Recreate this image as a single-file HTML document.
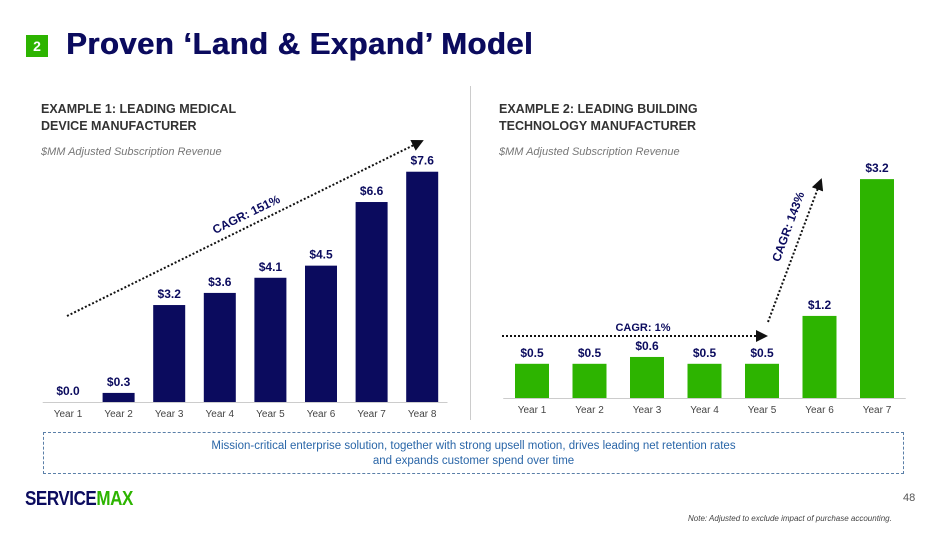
<!DOCTYPE html>
<html><head><meta charset="utf-8"><style>
body{margin:0;width:950px;height:534px;background:#fff;overflow:hidden;position:relative;font-family:"Liberation Sans",sans-serif}
.abs{position:absolute}
</style></head><body>
<div class="abs" style="left:26px;top:35px;width:22px;height:22px;background:#2db400;color:#fff;font-weight:bold;font-size:14px;text-align:center;line-height:22px">2</div>
<div class="abs" style="left:66px;top:26px;font-size:31px;font-weight:bold;color:#0b0b5e;letter-spacing:0.5px;text-shadow:0.6px 0 0 #0b0b5e">Proven ‘Land &amp; Expand’ Model</div>
<div class="abs" style="left:41px;top:101px;font-size:12.5px;font-weight:bold;color:#333;line-height:17px">EXAMPLE 1: LEADING MEDICAL<br>DEVICE MANUFACTURER</div>
<div class="abs" style="left:41px;top:146px;font-size:11px;font-style:italic;color:#777">$MM Adjusted Subscription Revenue</div>
<div class="abs" style="left:499px;top:101px;font-size:12.5px;font-weight:bold;color:#333;line-height:17px">EXAMPLE 2: LEADING BUILDING<br>TECHNOLOGY MANUFACTURER</div>
<div class="abs" style="left:499px;top:146px;font-size:11px;font-style:italic;color:#777">$MM Adjusted Subscription Revenue</div>
<div class="abs" style="left:470px;top:86px;width:1px;height:334px;background:#ccc"></div>
<svg class="abs" style="left:0;top:0" width="950" height="534" id="chart">
<defs><marker id="ah" markerWidth="6" markerHeight="6" refX="5" refY="3" orient="auto"><path d="M0,0L6,3L0,6z" fill="#111"/></marker></defs>
<g id="g1"></g><g id="g2"></g>
<line x1="67" y1="316" x2="422" y2="141" stroke="#111" stroke-width="2" stroke-dasharray="2,2" marker-end="url(#ah)"/>
<text x="248" y="218" transform="rotate(-26 248 218)" text-anchor="middle" font-size="12" font-weight="bold" fill="#0b0b5e">CAGR: 151%</text>
<line x1="502" y1="336" x2="766" y2="336" stroke="#111" stroke-width="2" stroke-dasharray="2,2" marker-end="url(#ah)"/>
<text x="643" y="331" text-anchor="middle" font-size="11" font-weight="bold" fill="#0b0b5e">CAGR: 1%</text>
<line x1="768" y1="322" x2="821" y2="180" stroke="#111" stroke-width="2" stroke-dasharray="2,2" marker-end="url(#ah)"/>
<text x="792" y="228" transform="rotate(-70 792 228)" text-anchor="middle" font-size="12" font-weight="bold" fill="#0b0b5e">CAGR: 143%</text>
</svg>
<div class="abs" style="left:43px;top:432px;width:861px;height:42px;border:1px dashed #5a7fa8;color:#2a66a8;font-size:11.5px;text-align:center;line-height:15px;padding-top:6px;box-sizing:border-box">Mission-critical enterprise solution, together with strong upsell motion, drives leading net retention rates<br>and expands customer spend over time</div>
<div class="abs" style="left:25px;top:488px;font-size:20px;font-weight:bold;color:#0b0b5e;transform:scaleX(0.85);transform-origin:left;letter-spacing:-0.5px">SERVICE<span style="color:#2db400">MAX</span></div>
<div class="abs" style="left:903px;top:492px;font-size:11px;color:#555">48</div>
<div class="abs" style="left:688px;top:514px;font-size:8px;font-style:italic;color:#444">Note: Adjusted to exclude impact of purchase accounting.</div>
<script>
const cats1=["Year 1","Year 2","Year 3","Year 4","Year 5","Year 6","Year 7","Year 8"];
const vals1=[0.0,0.3,3.2,3.6,4.1,4.5,6.6,7.6];
const labels1=["$0.0","$0.3","$3.2","$3.6","$4.1","$4.5","$6.6","$7.6"];
const cats2=["Year 1","Year 2","Year 3","Year 4","Year 5","Year 6","Year 7"];
const vals2=[0.5,0.5,0.6,0.5,0.5,1.2,3.2];
const labels2=["$0.5","$0.5","$0.6","$0.5","$0.5","$1.2","$3.2"];
const NS="http://www.w3.org/2000/svg";
function draw(g,cats,vals,labels,x0,step,bw,base,scale,color,id){
  const gx=document.getElementById(g);
  const line=document.createElementNS(NS,"line");
  
  
  line.setAttribute("x1",x0-step/2);line.setAttribute("x2",x0+step*(cats.length-0.5));
  line.setAttribute("y1",base+0.5);line.setAttribute("y2",base+0.5);line.setAttribute("stroke","#ccc");
  gx.appendChild(line);
  cats.forEach((c,i)=>{
    const cx=x0+i*step, h=vals[i]*scale;
    const r=document.createElementNS(NS,"rect");
    
    
    r.setAttribute("x",cx-bw/2);r.setAttribute("y",base-h);r.setAttribute("width",bw);r.setAttribute("height",h);r.setAttribute("fill",color);
    gx.appendChild(r);
    const t=document.createElementNS(NS,"text");
    
    
    t.setAttribute("x",cx);t.setAttribute("y",base-h-7);t.setAttribute("text-anchor","middle");t.setAttribute("font-size","12");t.setAttribute("font-weight","bold");t.setAttribute("fill","#0b0b5e");
    t.textContent=labels[i];gx.appendChild(t);
    const l=document.createElementNS(NS,"text");
    
    
    l.setAttribute("x",cx);l.setAttribute("y",base+15);l.setAttribute("text-anchor","middle");l.setAttribute("font-size","10");l.setAttribute("fill","#444");
    l.textContent=c;gx.appendChild(l);
  });
}
draw("g1",cats1,vals1,labels1,68,50.6,32,402,30.3,"#0b0b5e","ex1");
draw("g2",cats2,vals2,labels2,532,57.5,34,398,68.4,"#2db400","ex2");
</script>
</body></html>
